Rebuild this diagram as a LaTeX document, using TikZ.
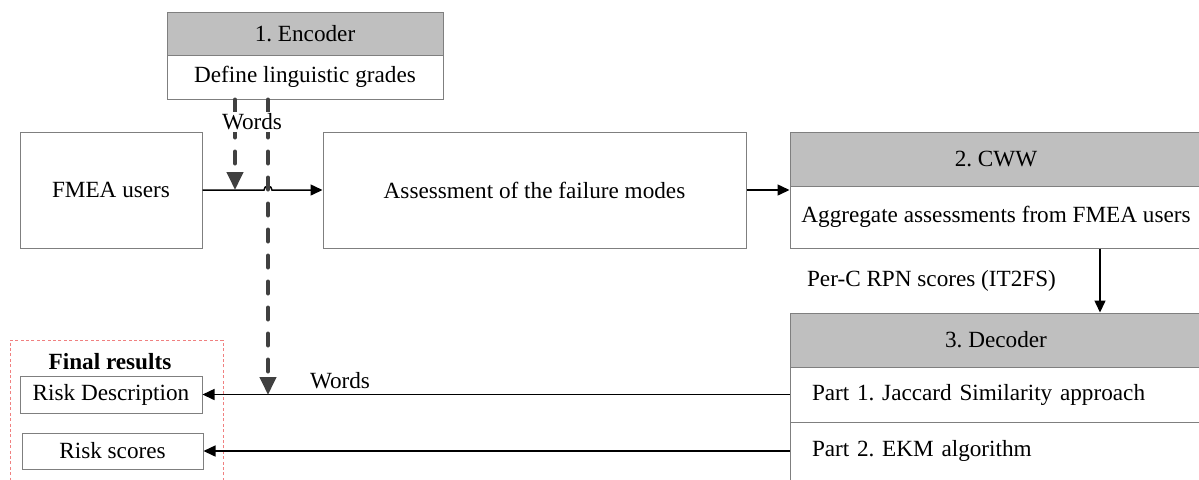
\documentclass[tikz,border=0pt]{standalone}
\usepackage{fontspec}
\setmainfont{Liberation Serif}
\usetikzlibrary{arrows.meta,calc}

\definecolor{headgray}{HTML}{BFBFBF}
\definecolor{boxline}{HTML}{7F7F7F}
\definecolor{dashgray}{HTML}{404040}
\definecolor{framered}{HTML}{F08080}

\frenchspacing

\begin{document}
\begin{tikzpicture}[x = 0.5pt, y = 0.5pt,
  every node/.style = {font = \fontsize{11.6}{14}\selectfont},
  box/.style = {draw = boxline, fill = white, inner sep = 0pt, line width = 0.5pt},
  head/.style = {box, fill = headgray},
  part/.style = {box, inner xsep = 11pt, text width = 184pt, align = left},
  arr/.style = {line width = 0.75pt, -{Triangle[length = 6pt, width = 5.5pt]}},
  words/.style = {dashgray, line width = 2pt, line cap = round,
    dash pattern = on 6pt off 7pt, -{Triangle[length = 9pt, width = 8pt]}}
]
  \useasboundingbox (0,0) rectangle (1199,-479);
  \clip (0,0) rectangle (1199,-479);

  % encoder
  \node[head, minimum width = 138pt, minimum height = 21.5pt] (ench) at (305,-33.5) {1. Encoder};
  \node[box, minimum width = 138pt, minimum height = 22pt] (enc) at (305,-77) {Define linguistic grades};

  \node[box, minimum width = 91pt, minimum height = 58pt] (fmea) at (111,-190) {FMEA users};
  \node[box, minimum width = 211.5pt, minimum height = 58pt] (assess) at (534.5,-190) {Assessment of the failure modes};

  % cww
  \node[head, minimum width = 206pt, minimum height = 27pt] (cwwh) at (996,-159) {2. CWW};
  \node[box, minimum width = 206pt, minimum height = 31pt] (cwwb) at (996,-217) {Aggregate assessments from FMEA users};

  % decoder
  \node[head, minimum width = 206pt, minimum height = 27pt] (dech) at (996,-340) {3. Decoder};
  \node[part, minimum height = 27.5pt] (part1) at (996,-394.5) {Part 1. Jaccard Similarity approach};
  \node[part, minimum height = 29pt] (part2) at (996,-451) {Part 2. EKM algorithm};

  % final results
  \node[draw = framered, line width = 0.5pt, dash pattern = on 1.5pt off 1.2pt,
    minimum width = 106.5pt, minimum height = 80pt] (results) at (116.5,-420) {};
  \node[font = \fontsize{11.6}{14}\selectfont\bfseries] (restitle) at (110,-362) {Final results};
  \node[box, minimum width = 91pt, minimum height = 18.5pt] (riskd) at (111,-395) {Risk Description};
  \node[box, minimum width = 90.5pt, minimum height = 18pt] (risks) at (112.5,-451) {Risk scores};

  \coordinate (w1) at ([xshift = -35pt]enc.south);
  \coordinate (w2) at ([xshift = -18.5pt]enc.south);

  \draw[arr] (fmea.east) -- ($(w2 |- fmea.east)+(-4,0)$)
    arc[start angle = 180, end angle = 0, radius = 2pt] -- (assess.west);
  \draw[arr] (assess.east) -- (assess.east -| cwwb.west);
  \draw[arr] ([xshift = 52pt]cwwb.south) -- ([xshift = 52pt]dech.north);
  \node[anchor = west] (rpn) at (800,-281) {Per-C RPN scores (IT2FS)};
  \draw[arr] (part1.west) -- (part1.west -| riskd.east);
  \draw[arr] (part2.west) -- (part2.west -| risks.east);
  \node (words2) at (340,-381) {Words};

  \draw[words] (w1) -- (w1 |- fmea.east);
  \draw[words] (w2) -- (w2 |- riskd.east);
  \node[fill = white, inner sep = 1pt] (words1) at (252,-122) {Words};
\end{tikzpicture}
\end{document}
